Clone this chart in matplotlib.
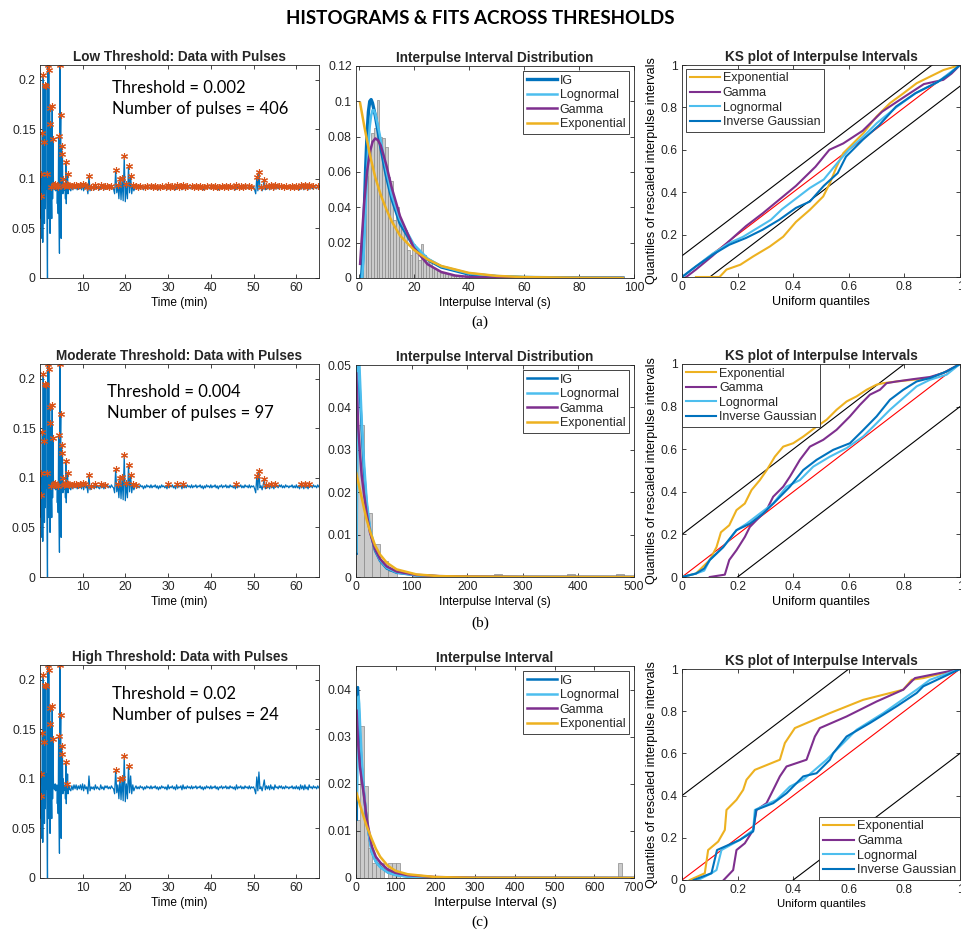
"""Histograms & fits across thresholds: pulse detection, interpulse-interval
PDFs and KS plots for three detection thresholds (MATLAB-style figure)."""
import matplotlib

matplotlib.use("Agg")
import matplotlib.pyplot as plt
import numpy as np
from matplotlib.ticker import FormatStrFormatter

W, H = 961, 940

# ---------------------------------------------------------------- data
# signal (thousandths), sampled every 0.1 min from 0.0 to 7.0 min
EARLY_START_MIN, EARLY_STEP_MIN = 0.0, 0.1
SIGNAL_EARLY = [
    93, 82, 105, 60, 83, 40, 146, 36, 205, 80,
    137, 55, 195, 70, 194, 90, 105, 54, 0, 215,
    60, 210, 80, 172, 45, 155, 85, 92, 60, 174,
    80, 140, 95, 90, 94, 89, 95, 88, 93, 91,
    94, 75, 92, 65, 143, 64, 25, 215, 133, 165,
    40, 133, 100, 125, 85, 100, 88, 93, 90, 94,
    80, 117, 75, 95, 86, 105, 85, 94, 89, 93,
    90,
]
# then every 0.25 min from 7.25 to 65.25 min
LATE_START_MIN, LATE_STEP_MIN = 7.25, 0.25
SIGNAL_LATE = [
    88, 93, 89, 94, 90, 94, 89, 93, 90, 94, 89, 95, 88, 94, 90, 92,
    85, 103, 88, 92,
    90, 92, 89, 94, 90, 92, 90, 89, 94, 90, 92, 89, 93, 91, 93, 90, 92, 90, 93, 91,
    90, 85, 109, 86, 94, 80, 100, 79, 101, 78, 123, 77, 95, 80, 113, 86, 103, 85, 94, 88,
    91, 93, 90, 92, 90, 93, 91, 92, 89, 92, 90, 93,
    91, 92, 90, 93, 90, 92, 91, 93, 90, 92, 89, 92,
    90, 93, 91, 92, 90, 92, 89, 94, 90, 92, 91, 93,
    90, 92, 89, 94, 90, 92, 91, 93, 89, 94, 90, 92,
    90, 93, 91, 92, 90, 93, 90, 92, 91, 93, 90, 92,
    91, 93, 90, 92, 89, 92, 90, 93, 91, 92, 90, 93,
    90, 92, 91, 93, 90, 92, 89, 92, 91, 93, 90, 92,
    91, 93, 90, 92, 90, 93, 91, 92, 90, 92, 89, 94,
    90, 92, 91, 93, 90, 92, 90, 93, 91, 92, 90, 93,
    90, 92, 91, 92,
    89, 85, 102, 88, 107, 90, 92, 88, 93, 99, 89, 93,
    90, 93, 89, 94, 90, 92, 89, 94, 91, 92, 90, 93,
    91, 93, 90, 92, 90, 93, 91, 92, 90, 92, 91, 93, 90, 92, 90, 93,
    90, 92, 89, 94, 90, 93, 89, 94, 90, 92, 89, 94, 91, 92,
    90, 93, 91, 92, 90, 93, 91,
]

ROW_NAMES = ["Low", "Moderate", "High"]
THRESHOLDS = ["0.002", "0.004", "0.02"]
THRESH_MILLI = [2, 4, 20]
N_PULSES = [406, 97, 24]
KS_BAND = [0.1, 0.2, 0.4]

# interpulse interval histograms (density)
HIST_A_START, HIST_A_WIDTH = 0.5, 1.0
HIST_A_DENS = [0.003, 0.036, 0.058, 0.072, 0.082, 0.085, 0.101, 0.080, 0.079, 0.074,
               0.057, 0.055, 0.033, 0.040, 0.031, 0.028, 0.027, 0.016, 0.013, 0.019,
               0.014, 0.010, 0.019, 0.013, 0.009, 0.010, 0.006, 0.005, 0.004, 0.003,
               0.003, 0.002, 0.002, 0.001, 0.001, 0.001, 0.001, 0.0, 0.002, 0.001,
               0.0, 0.001, 0.0, 0.0, 0.002]
HIST_B_WIDTH = 14.6
HIST_B_BINS = [0, 1, 2, 3, 4, 7, 8, 17, 26, 32]
HIST_B_DENS = [0.0358, 0.0150, 0.0079, 0.0038, 0.0015, 0.0007, 0.0007, 0.0006, 0.0006, 0.0006]
HIST_C_WIDTH = 10.0
HIST_C_BINS = [0, 1, 2, 3, 4, 5, 6, 8, 9, 10, 66]
HIST_C_DENS = [0.0124, 0.0323, 0.0195, 0.0064, 0.0032, 0.0032, 0.0032, 0.0032, 0.0032, 0.0032, 0.0032]

# fitted pdf curves
IG_A_X = [1.0, 1.5, 2.0, 2.5, 3.0, 3.5, 4.0, 4.5, 5.0, 6.0, 7.0, 8.0, 10, 12, 15, 20, 25, 30, 40, 50, 60, 80, 96]
IG_A_Y = [0.0, 0.012, 0.037, 0.062, 0.081, 0.094, 0.100, 0.101, 0.099, 0.092, 0.083, 0.074, 0.058,
          0.045, 0.031, 0.018, 0.0105, 0.0062, 0.0022, 0.0008, 0.0003, 0.00005, 0.0]
LOGN_A_X = [1.2, 1.6, 2.0, 2.5, 3.0, 3.5, 4.0, 4.5, 5.0, 5.5, 6.0, 7.0, 8.0, 10, 12, 15, 20, 25, 30, 40, 50, 60, 80, 96]
LOGN_A_Y = [0.0, 0.008, 0.02, 0.04, 0.06, 0.075, 0.086, 0.092, 0.095, 0.095, 0.093, 0.086, 0.078, 0.061,
            0.047, 0.033, 0.019, 0.011, 0.0066, 0.0026, 0.0011, 0.0005, 0.0001, 0.0]
GAM_A_X = [0.5, 1, 2, 3, 4, 5, 6, 7, 8, 10, 12, 15, 20, 25, 30, 35, 40, 50, 60, 96]
GAM_A_Y = [0.008, 0.02, 0.043, 0.060, 0.071, 0.077, 0.079, 0.078, 0.075, 0.064, 0.051, 0.035, 0.017,
           0.0078, 0.0034, 0.0014, 0.0006, 0.0001, 0.0, 0.0]
EXP_A_X = [0.5, 2, 4, 6, 8, 10, 12, 15, 20, 25, 30, 40, 50, 60, 80, 96]
EXP_A_Y = [0.099, 0.086, 0.070, 0.057, 0.047, 0.039, 0.032, 0.024, 0.016, 0.0105, 0.0068, 0.0029,
           0.0012, 0.0005, 0.0001, 0.0]

IG_B_X = [1.2, 1.8, 2.6, 3.4, 4.2, 7.2, 10.2, 14.4, 19.2, 25.2, 34.2, 43.2, 55.2, 73, 109, 150, 200, 300, 500]
IG_B_Y = [0.0055, 0.03, 0.055, 0.057, 0.052, 0.043, 0.035, 0.025, 0.017, 0.011, 0.0062, 0.0038, 0.002,
          0.001, 0.0004, 0.00015, 0.00005, 0.00001, 0.0]
LOGN_B_X = [1.0, 1.5, 2.5, 3.5, 5.5, 8, 10.2, 14.4, 19.2, 25.2, 34.2, 43.2, 55.2, 73, 109, 150, 200, 300, 500]
LOGN_B_Y = [0.006, 0.02, 0.045, 0.054, 0.052, 0.044, 0.037, 0.027, 0.018, 0.0115, 0.0065, 0.004, 0.0022,
            0.0011, 0.0004, 0.00015, 0.00005, 0.00001, 0.0]
GAM_B_X = [0.5, 2, 4.2, 7.2, 10.2, 14.4, 19.2, 25.2, 34.2, 43.2, 55.2, 73, 109, 150, 200, 300, 500]
GAM_B_Y = [0.048, 0.042, 0.035, 0.029, 0.024, 0.0195, 0.015, 0.0105, 0.0066, 0.0043, 0.0025, 0.0013,
           0.0005, 0.0002, 0.0001, 0.00002, 0.0]
EXP_B_X = [0.5, 7.2, 14.4, 19.2, 25.2, 34.2, 43.2, 55.2, 73, 109, 150, 200, 300, 500]
EXP_B_Y = [0.0245, 0.0205, 0.0162, 0.0135, 0.0108, 0.0075, 0.0053, 0.0034, 0.0018, 0.0006, 0.0002,
           0.0001, 0.00002, 0.0]

IG_C_X = [2, 2.8, 3.8, 5, 7, 10, 14, 19.3, 27, 40, 50, 61, 80, 100, 130, 200, 300, 700]
IG_C_Y = [0.0124, 0.03, 0.0405, 0.0405, 0.036, 0.030, 0.024, 0.0185, 0.012, 0.0055, 0.0035, 0.0024,
          0.0012, 0.0007, 0.0003, 0.0001, 0.00002, 0.0]
LOGN_C_X = [2.5, 3.5, 5, 6.5, 8, 10, 14, 19.3, 27, 40, 50, 61, 80, 100, 130, 200, 300, 700]
LOGN_C_Y = [0.018, 0.03, 0.037, 0.0385, 0.037, 0.033, 0.026, 0.019, 0.012, 0.0054, 0.0034, 0.0023,
            0.0012, 0.0006, 0.0003, 0.0001, 0.00002, 0.0]
GAM_C_X = [1.5, 5, 10, 14, 19.3, 27, 40, 50, 61, 80, 100, 130, 200, 300, 700]
GAM_C_Y = [0.0355, 0.029, 0.0235, 0.021, 0.018, 0.0125, 0.0067, 0.0045, 0.0033, 0.0018, 0.0011,
           0.0006, 0.0002, 0.00005, 0.0]
EXP_C_X = [1.5, 10, 19.3, 27, 40, 50, 61, 80, 100, 130, 200, 300, 700]
EXP_C_Y = [0.018, 0.0155, 0.013, 0.011, 0.0082, 0.0062, 0.0045, 0.0026, 0.0015, 0.0008, 0.0002,
           0.00004, 0.0]

# KS plot curves (uniform quantile, rescaled quantile)
KS_EXP_A_X = [0.05, 0.135, 0.16, 0.21, 0.256, 0.316, 0.364, 0.41, 0.46, 0.508, 0.532, 0.556, 0.58,
              0.604, 0.652, 0.7, 0.748, 0.796, 0.844, 0.892, 0.94, 0.988, 1.0]
KS_EXP_A_Y = [0.0, 0.0, 0.035, 0.058, 0.097, 0.144, 0.19, 0.26, 0.317, 0.38, 0.443, 0.52, 0.584,
              0.615, 0.678, 0.757, 0.82, 0.866, 0.914, 0.945, 0.976, 0.995, 1.0]
KS_GAM_A_X = [0.015, 0.05, 0.11, 0.17, 0.23, 0.29, 0.35, 0.41, 0.48, 0.53, 0.58, 0.65, 0.72, 0.8,
              0.87, 0.94, 0.97, 1.0]
KS_GAM_A_Y = [0.0, 0.035, 0.1, 0.17, 0.24, 0.3, 0.365, 0.43, 0.52, 0.6, 0.63, 0.69, 0.78, 0.85,
              0.91, 0.93, 0.96, 1.0]
KS_LOGN_A_X = [0.0, 0.05, 0.11, 0.17, 0.22, 0.27, 0.32, 0.36, 0.41, 0.46, 0.51, 0.56, 0.6, 0.65,
               0.7, 0.77, 0.84, 0.92, 1.0]
KS_LOGN_A_Y = [0.0, 0.05, 0.11, 0.16, 0.19, 0.23, 0.27, 0.32, 0.37, 0.42, 0.46, 0.54, 0.6, 0.66,
               0.725, 0.8, 0.867, 0.92, 1.0]
KS_IG_A_X = [0.0, 0.05, 0.11, 0.17, 0.23, 0.29, 0.35, 0.41, 0.46, 0.51, 0.56, 0.59, 0.65, 0.71,
             0.77, 0.84, 0.92, 0.96, 1.0]
KS_IG_A_Y = [0.0, 0.05, 0.105, 0.152, 0.184, 0.223, 0.27, 0.326, 0.356, 0.43, 0.49, 0.568, 0.647,
             0.717, 0.804, 0.867, 0.92, 0.955, 1.0]

KS_EXP_B_X = [0.0, 0.05, 0.1, 0.124, 0.14, 0.17, 0.196, 0.226, 0.25, 0.28, 0.305, 0.334, 0.364, 0.4,
              0.436, 0.484, 0.52, 0.556, 0.592, 0.628, 0.664, 0.7, 0.724, 0.772, 0.832, 0.892, 0.952, 1.0]
KS_EXP_B_Y = [0.0, 0.016, 0.08, 0.14, 0.21, 0.243, 0.314, 0.345, 0.408, 0.455, 0.502, 0.565, 0.612,
              0.628, 0.659, 0.706, 0.738, 0.785, 0.824, 0.848, 0.879, 0.903, 0.91, 0.918, 0.926,
              0.934, 0.965, 1.0]
KS_GAM_B_X = [0.1, 0.154, 0.17, 0.196, 0.226, 0.244, 0.268, 0.304, 0.328, 0.364, 0.388, 0.424, 0.46,
              0.508, 0.556, 0.604, 0.64, 0.676, 0.712, 0.736, 0.772, 0.832, 0.892, 0.94, 1.0]
KS_GAM_B_Y = [0.0, 0.011, 0.08, 0.126, 0.188, 0.235, 0.267, 0.314, 0.377, 0.424, 0.471, 0.55, 0.612,
              0.644, 0.691, 0.754, 0.808, 0.856, 0.879, 0.91, 0.918, 0.929, 0.939, 0.958, 1.0]
KS_LOGN_B_X = [0.0, 0.05, 0.08, 0.1, 0.148, 0.196, 0.232, 0.28, 0.328, 0.376, 0.424, 0.472, 0.532,
               0.592, 0.652, 0.7, 0.748, 0.796, 0.844, 0.892, 0.952, 1.0]
KS_LOGN_B_Y = [0.0, 0.016, 0.03, 0.08, 0.14, 0.22, 0.25, 0.298, 0.345, 0.424, 0.455, 0.518, 0.565,
               0.605, 0.66, 0.722, 0.785, 0.84, 0.895, 0.926, 0.95, 1.0]
KS_IG_B_X = [0.0, 0.05, 0.08, 0.1, 0.148, 0.196, 0.244, 0.292, 0.34, 0.388, 0.436, 0.484, 0.544,
             0.604, 0.652, 0.7, 0.748, 0.796, 0.844, 0.892, 0.952, 1.0]
KS_IG_B_Y = [0.0, 0.016, 0.04, 0.08, 0.14, 0.22, 0.25, 0.298, 0.36, 0.424, 0.502, 0.55, 0.597,
             0.628, 0.69, 0.754, 0.832, 0.879, 0.918, 0.934, 0.965, 1.0]

KS_EXP_C_X = [0.028, 0.082, 0.094, 0.13, 0.154, 0.16, 0.196, 0.22, 0.232, 0.262, 0.352, 0.37, 0.406,
              0.532, 0.652, 0.796, 0.826, 0.868, 1.0]
KS_EXP_C_Y = [0.0, 0.032, 0.142, 0.182, 0.237, 0.332, 0.38, 0.427, 0.475, 0.522, 0.57, 0.649, 0.72,
              0.791, 0.854, 0.902, 0.949, 0.957, 1.0]
KS_GAM_C_X = [0.15, 0.184, 0.196, 0.226, 0.256, 0.262, 0.268, 0.304, 0.328, 0.352, 0.376, 0.448,
              0.478, 0.496, 0.592, 0.7, 0.796, 0.838, 1.0]
KS_GAM_C_Y = [0.0, 0.047, 0.142, 0.174, 0.237, 0.285, 0.332, 0.364, 0.427, 0.491, 0.538, 0.57,
              0.68, 0.72, 0.775, 0.846, 0.902, 0.957, 1.0]
KS_LOGN_C_X = [0.058, 0.106, 0.124, 0.142, 0.208, 0.256, 0.262, 0.34, 0.388, 0.436, 0.52, 0.556,
               0.628, 0.724, 0.844, 0.892, 1.0]
KS_LOGN_C_Y = [0.0, 0.032, 0.047, 0.142, 0.19, 0.237, 0.332, 0.38, 0.443, 0.475, 0.57, 0.617,
               0.712, 0.791, 0.902, 0.949, 1.0]
KS_IG_C_X = [0.042, 0.106, 0.126, 0.208, 0.256, 0.266, 0.328, 0.376, 0.412, 0.436, 0.484, 0.532,
             0.544, 0.592, 0.676, 0.772, 0.844, 0.868, 1.0]
KS_IG_C_Y = [0.0, 0.032, 0.142, 0.19, 0.23, 0.332, 0.364, 0.411, 0.459, 0.491, 0.506, 0.57, 0.601,
             0.68, 0.744, 0.823, 0.886, 0.918, 1.0]

# ---------------------------------------------------------------- style
BLUE = "#0072BD"
ORANGE = "#D95319"
YELLOW = "#EDB120"
PURPLE = "#7E2F8E"
LIGHTBLUE = "#4DBEEE"
DARK = "#262626"

plt.rcParams["font.family"] = ["Liberation Sans", "DejaVu Sans"]
plt.rcParams["axes.edgecolor"] = DARK
plt.rcParams["axes.linewidth"] = 0.6
plt.rcParams["xtick.color"] = DARK
plt.rcParams["ytick.color"] = DARK
plt.rcParams["text.color"] = DARK

# pixel boxes (x0, y0, x1, y1)
LEFT_BOX = [(40, 65, 319, 278), (40, 364, 319, 577), (40, 665, 319, 878)]
MID_BOX = [(356, 66, 634, 278), (356, 365, 634, 577), (356, 666, 634, 878)]
RIGHT_BOX = [(682, 65, 960, 277), (682, 364, 960, 577), (682, 669, 960, 880)]


def px_axes(fig, box):
    x0, y0, x1, y1 = box
    return fig.add_axes([x0 / W, 1 - y1 / H, (x1 - x0) / W, (y1 - y0) / H])


def matlab_ticks(ax):
    ax.tick_params(direction="in", top=True, right=True, length=3, width=0.6,
                   labelsize=8.7, pad=3)


def find_pulses(v, thr):
    """Local maxima that rise at least thr above the last local minimum."""
    idx, last_min = [], v[0]
    for i in range(1, len(v) - 1):
        if v[i] <= v[i - 1] and v[i] <= v[i + 1]:
            last_min = v[i]
        elif v[i] > v[i - 1] and v[i] >= v[i + 1] and v[i] - last_min >= thr:
            idx.append(i)
    return idx


def legend(ax, handles, labels, size=9, **kw):
    leg = ax.legend(handles, labels, fontsize=size, handlelength=2.4, handletextpad=0.25,
                    labelspacing=0.2, borderpad=0.3, fancybox=False, framealpha=1,
                    edgecolor=DARK, **kw)
    leg.get_frame().set_linewidth(0.6)
    return leg


t_early = EARLY_START_MIN + EARLY_STEP_MIN * np.arange(len(SIGNAL_EARLY))
t_late = LATE_START_MIN + LATE_STEP_MIN * np.arange(len(SIGNAL_LATE))
time_min = np.concatenate([t_early, t_late])
sig_milli = SIGNAL_EARLY + SIGNAL_LATE
signal = np.array(sig_milli) / 1000.0

hists = [
    (HIST_A_START + HIST_A_WIDTH * np.arange(len(HIST_A_DENS)), HIST_A_DENS, HIST_A_WIDTH),
    (HIST_B_WIDTH * np.array(HIST_B_BINS), HIST_B_DENS, HIST_B_WIDTH),
    (HIST_C_WIDTH * np.array(HIST_C_BINS), HIST_C_DENS, HIST_C_WIDTH),
]
pdfs = [
    [(IG_A_X, IG_A_Y), (LOGN_A_X, LOGN_A_Y), (GAM_A_X, GAM_A_Y), (EXP_A_X, EXP_A_Y)],
    [(IG_B_X, IG_B_Y), (LOGN_B_X, LOGN_B_Y), (GAM_B_X, GAM_B_Y), (EXP_B_X, EXP_B_Y)],
    [(IG_C_X, IG_C_Y), (LOGN_C_X, LOGN_C_Y), (GAM_C_X, GAM_C_Y), (EXP_C_X, EXP_C_Y)],
]
ks = [
    [(KS_EXP_A_X, KS_EXP_A_Y), (KS_GAM_A_X, KS_GAM_A_Y), (KS_LOGN_A_X, KS_LOGN_A_Y), (KS_IG_A_X, KS_IG_A_Y)],
    [(KS_EXP_B_X, KS_EXP_B_Y), (KS_GAM_B_X, KS_GAM_B_Y), (KS_LOGN_B_X, KS_LOGN_B_Y), (KS_IG_B_X, KS_IG_B_Y)],
    [(KS_EXP_C_X, KS_EXP_C_Y), (KS_GAM_C_X, KS_GAM_C_Y), (KS_LOGN_C_X, KS_LOGN_C_Y), (KS_IG_C_X, KS_IG_C_Y)],
]
mid_titles = ["Interpulse Interval Distribution", "Interpulse Interval Distribution",
              "Interpulse Interval"]
mid_xlim = [(-1, 100), (0, 500), (0, 700)]
mid_xticks = [np.arange(0, 101, 20), np.arange(0, 501, 100), np.arange(0, 701, 100)]
mid_ylim = [0.12, 0.05, 0.045]
mid_yticks = [np.arange(0, 0.121, 0.02), np.arange(0, 0.051, 0.01), np.arange(0, 0.041, 0.01)]
pdf_colors = [BLUE, LIGHTBLUE, PURPLE, YELLOW]
pdf_labels = ["IG", "Lognormal", "Gamma", "Exponential"]
ks_colors = [YELLOW, PURPLE, LIGHTBLUE, BLUE]
ks_labels = ["Exponential", "Gamma", "Lognormal", "Inverse Gaussian"]
text_pos = [(112, 93), (107, 397), (112, 699)]
captions = [("(a)", 322), ("(b)", 623), ("(c)", 922)]

fig = plt.figure(figsize=(W / 100, H / 100), dpi=100)
fig.text(480 / W, 1 - 18 / H, "HISTOGRAMS & FITS ACROSS THRESHOLDS", ha="center",
         va="center", fontsize=13.5, fontweight="bold", family=["Lato", "DejaVu Sans"],
         color="black")

for r in range(3):
    # ---- signal with detected pulses
    ax = px_axes(fig, LEFT_BOX[r])
    ax.plot(time_min, signal, color=BLUE, lw=0.9)
    idx = find_pulses(sig_milli, THRESH_MILLI[r])
    ax.plot(time_min[idx], signal[idx], ls="none", marker=(6, 2, 0), ms=5, mew=0.8,
            color=ORANGE)
    ax.set_xlim(0.05, 65.3)
    ax.set_ylim(0, 0.215)
    ax.set_xticks(np.arange(10, 61, 10))
    ax.set_yticks([0, 0.05, 0.1, 0.15, 0.2])
    ax.yaxis.set_major_formatter(FormatStrFormatter("%g"))
    matlab_ticks(ax)
    ax.set_xlabel("Time (min)", fontsize=8.6, labelpad=2)
    ax.set_title(f"{ROW_NAMES[r]} Threshold: Data with Pulses", fontsize=9.8,
                 fontweight="bold", pad=3)
    tx, ty = text_pos[r]
    fig.text(tx / W, 1 - ty / H, f"Threshold = {THRESHOLDS[r]}", fontsize=12,
             family=["Lato", "DejaVu Sans"], va="baseline", color="black")
    fig.text(tx / W, 1 - (ty + 21) / H, f"Number of pulses = {N_PULSES[r]}", fontsize=12,
             family=["Lato", "DejaVu Sans"], va="baseline", color="black")

    # ---- histogram + fitted pdfs
    ax = px_axes(fig, MID_BOX[r])
    left, dens, width = hists[r]
    ax.bar(left, dens, width=width, align="edge", color="#cbcbcb", edgecolor="#8a8a8a",
           lw=0.5)
    handles = []
    for (x, y), c in zip(pdfs[r], pdf_colors):
        lw = 2.4 if (c == BLUE and r == 0) else 1.8
        handles.append(ax.plot(x, y, color=c, lw=lw)[0])
    ax.set_xlim(*mid_xlim[r])
    ax.set_ylim(0, mid_ylim[r])
    ax.set_xticks(mid_xticks[r])
    ax.set_yticks(mid_yticks[r])
    ax.yaxis.set_major_formatter(FormatStrFormatter("%g"))
    matlab_ticks(ax)
    ax.set_xlabel("Interpulse Interval (s)", fontsize=9.4 if r == 2 else 8.6, labelpad=2)
    ax.set_title(mid_titles[r], fontsize=9.8, fontweight="bold", pad=3)
    legend(ax, handles, pdf_labels, loc="upper right", borderaxespad=0.4)

    # ---- KS plot
    ax = px_axes(fig, RIGHT_BOX[r])
    b = KS_BAND[r]
    ax.plot([0, 1], [0, 1], color="red", lw=0.8)
    ax.plot([0, 1 - b], [b, 1], color="black", lw=0.8)
    ax.plot([b, 1], [0, 1 - b], color="black", lw=0.8)
    handles = []
    for (x, y), c in zip(ks[r], ks_colors):
        handles.append(ax.plot(x, y, color=c, lw=1.5)[0])
    ax.set_xlim(0, 1)
    ax.set_ylim(0, 1)
    ax.set_xticks(np.arange(0, 1.01, 0.2))
    ax.set_yticks(np.arange(0, 1.01, 0.2))
    ax.xaxis.set_major_formatter(FormatStrFormatter("%g"))
    ax.yaxis.set_major_formatter(FormatStrFormatter("%g"))
    matlab_ticks(ax)
    ax.set_xlabel("Uniform quantiles", fontsize=8.2 if r == 2 else 9, labelpad=2)
    ax.set_ylabel("Quantiles of rescaled interpulse intervals", fontsize=9, labelpad=2)
    ax.set_title("KS plot of Interpulse Intervals", fontsize=9.8, fontweight="bold", pad=3)
    if r == 2:
        legend(ax, handles, ks_labels, size=9.2, loc="lower right", borderaxespad=0.0)
    else:
        legend(ax, handles, ks_labels, loc="upper left", borderaxespad=0.3 if r == 0 else 0.0)

for lab, y in captions:
    fig.text(480 / W, 1 - y / H, lab, ha="center", va="center", fontsize=11,
             family=["Liberation Serif", "DejaVu Serif"], color="black")

fig.savefig("out.png", dpi=100)
